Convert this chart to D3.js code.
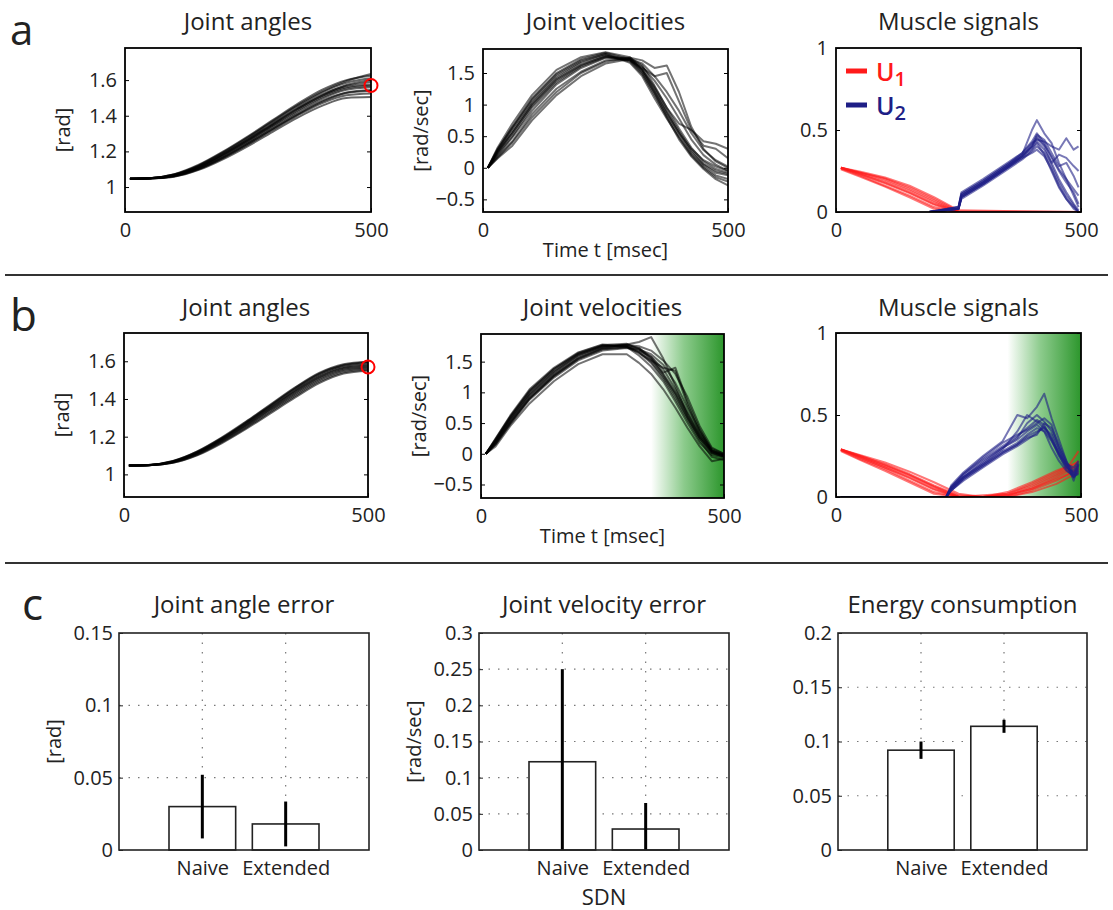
<!DOCTYPE html>
<html>
<head>
<meta charset="utf-8">
<script src="https://d3js.org/d3.v7.min.js"></script>
<style>
  body { margin: 0; background: #fff; }
  svg text { font-family: 'Open Sans', 'Noto Sans', sans-serif; fill: #222; }
</style>
</head>
<body>
<div id="chart"></div>
<script>
// ---- data ----
const timeTicks = [0, 500];

// joint angle traces, sampled at these times [msec]
const angleTimes = [10, 50, 100, 150, 200, 250, 300, 350, 400, 450, 500];
const anglesA = [
  [1.047, 1.050, 1.072, 1.125, 1.200, 1.285, 1.375, 1.465, 1.545, 1.600, 1.625],
  [1.047, 1.050, 1.070, 1.120, 1.193, 1.276, 1.365, 1.452, 1.530, 1.585, 1.610],
  [1.047, 1.049, 1.068, 1.116, 1.187, 1.268, 1.356, 1.442, 1.518, 1.568, 1.590],
  [1.047, 1.049, 1.066, 1.112, 1.182, 1.262, 1.349, 1.435, 1.510, 1.560, 1.575],
  [1.047, 1.049, 1.065, 1.110, 1.178, 1.257, 1.343, 1.428, 1.503, 1.553, 1.568],
  [1.047, 1.049, 1.064, 1.107, 1.174, 1.252, 1.337, 1.420, 1.495, 1.545, 1.560],
  [1.047, 1.048, 1.062, 1.103, 1.168, 1.245, 1.328, 1.410, 1.483, 1.530, 1.545],
  [1.047, 1.048, 1.060, 1.100, 1.163, 1.238, 1.320, 1.400, 1.470, 1.515, 1.525],
  [1.047, 1.048, 1.058, 1.096, 1.157, 1.230, 1.310, 1.388, 1.455, 1.500, 1.505],
  [1.047, 1.050, 1.071, 1.122, 1.196, 1.280, 1.370, 1.458, 1.535, 1.595, 1.635],
  [1.047, 1.049, 1.067, 1.114, 1.185, 1.266, 1.352, 1.438, 1.513, 1.572, 1.600],
  [1.047, 1.048, 1.061, 1.102, 1.166, 1.243, 1.325, 1.405, 1.478, 1.528, 1.540]
];
const anglesB = [
  [1.047, 1.050, 1.070, 1.120, 1.192, 1.277, 1.367, 1.457, 1.535, 1.580, 1.595],
  [1.047, 1.050, 1.069, 1.118, 1.190, 1.274, 1.363, 1.452, 1.530, 1.576, 1.590],
  [1.047, 1.049, 1.068, 1.116, 1.187, 1.270, 1.358, 1.446, 1.524, 1.570, 1.583],
  [1.047, 1.049, 1.067, 1.114, 1.184, 1.266, 1.354, 1.441, 1.518, 1.565, 1.577],
  [1.047, 1.049, 1.066, 1.112, 1.181, 1.262, 1.349, 1.436, 1.513, 1.560, 1.572],
  [1.047, 1.049, 1.065, 1.110, 1.178, 1.258, 1.344, 1.430, 1.507, 1.555, 1.567],
  [1.047, 1.048, 1.064, 1.107, 1.174, 1.253, 1.338, 1.423, 1.500, 1.549, 1.562],
  [1.047, 1.048, 1.062, 1.104, 1.170, 1.247, 1.331, 1.415, 1.492, 1.542, 1.555],
  [1.047, 1.048, 1.061, 1.101, 1.165, 1.241, 1.324, 1.407, 1.484, 1.535, 1.550],
  [1.047, 1.050, 1.071, 1.122, 1.195, 1.280, 1.370, 1.460, 1.538, 1.584, 1.598]
];
const angleTarget = 1.57;

// joint velocity traces
const velTimes = [10, 30, 60, 100, 150, 200, 250, 300, 325, 350, 375, 400, 425, 450, 475, 500];
const velA = [
  [0, 0.30, 0.65, 1.10, 1.50, 1.72, 1.82, 1.72, 1.52, 1.20, 0.85, 0.55, 0.25, 0.05, -0.08, -0.12],
  [0, 0.25, 0.55, 1.00, 1.40, 1.63, 1.76, 1.70, 1.55, 1.28, 0.95, 0.62, 0.32, 0.10, -0.02, -0.08],
  [0, 0.18, 0.42, 0.85, 1.25, 1.52, 1.70, 1.72, 1.60, 1.38, 1.10, 0.78, 0.45, 0.20, 0.05, -0.05],
  [0, 0.28, 0.62, 1.05, 1.45, 1.68, 1.80, 1.66, 1.45, 1.10, 0.78, 0.48, 0.20, 0.00, -0.15, -0.22],
  [0, 0.15, 0.35, 0.75, 1.15, 1.45, 1.65, 1.72, 1.65, 1.45, 1.20, 0.90, 0.55, 0.28, 0.12, 0.02],
  [0, 0.32, 0.70, 1.15, 1.55, 1.75, 1.83, 1.75, 1.55, 1.25, 0.90, 0.58, 0.28, 0.06, -0.05, -0.10],
  [0, 0.22, 0.50, 0.95, 1.35, 1.60, 1.75, 1.70, 1.58, 1.45, 1.50, 1.05, 0.60, 0.35, 0.30, 0.15],
  [0, 0.20, 0.48, 0.90, 1.32, 1.58, 1.74, 1.74, 1.62, 1.30, 0.95, 0.70, 0.60, 0.42, 0.38, 0.30],
  [0, 0.26, 0.58, 1.02, 1.42, 1.66, 1.78, 1.68, 1.48, 1.15, 0.82, 0.50, 0.22, 0.02, -0.12, -0.18],
  [0, 0.16, 0.40, 0.80, 1.20, 1.50, 1.68, 1.74, 1.70, 1.58, 1.62, 1.20, 0.65, 0.30, 0.10, 0.00],
  [0, 0.24, 0.55, 0.98, 1.38, 1.62, 1.77, 1.72, 1.56, 1.22, 0.88, 0.55, 0.30, 0.12, 0.02, -0.05],
  [0, 0.29, 0.64, 1.08, 1.48, 1.70, 1.80, 1.70, 1.50, 1.18, 0.80, 0.45, 0.18, -0.02, -0.18, -0.28]
];
const velB = [
  [0, 0.22, 0.58, 1.00, 1.35, 1.62, 1.76, 1.76, 1.66, 1.50, 1.25, 0.95, 0.58, 0.25, 0.02, -0.04],
  [0, 0.18, 0.52, 0.92, 1.28, 1.56, 1.72, 1.74, 1.68, 1.58, 1.38, 1.05, 0.68, 0.32, 0.06, -0.02],
  [0, 0.25, 0.62, 1.05, 1.40, 1.65, 1.78, 1.74, 1.60, 1.42, 1.18, 0.85, 0.50, 0.18, -0.02, -0.06],
  [0, 0.15, 0.48, 0.88, 1.24, 1.52, 1.68, 1.72, 1.70, 1.62, 1.45, 1.15, 0.75, 0.38, 0.08, 0.00],
  [0, 0.20, 0.55, 0.96, 1.32, 1.60, 1.75, 1.78, 1.82, 1.90, 1.55, 1.10, 0.62, 0.28, 0.05, -0.03],
  [0, 0.12, 0.45, 0.82, 1.18, 1.46, 1.62, 1.62, 1.48, 1.30, 1.05, 0.75, 0.42, 0.12, -0.12, -0.08],
  [0, 0.23, 0.60, 1.02, 1.38, 1.63, 1.76, 1.75, 1.64, 1.52, 1.40, 1.35, 0.80, 0.35, 0.05, -0.02],
  [0, 0.19, 0.54, 0.95, 1.30, 1.58, 1.73, 1.78, 1.72, 1.55, 1.30, 1.00, 0.65, 0.30, 0.02, -0.05],
  [0, 0.17, 0.50, 0.90, 1.26, 1.54, 1.70, 1.73, 1.65, 1.48, 1.22, 0.90, 0.55, 0.22, -0.05, -0.10],
  [0, 0.21, 0.57, 0.98, 1.34, 1.61, 1.74, 1.77, 1.75, 1.68, 1.52, 1.30, 0.92, 0.45, 0.10, 0.00],
  [0, 0.16, 0.50, 0.90, 1.27, 1.55, 1.71, 1.75, 1.72, 1.58, 1.32, 1.40, 0.85, 0.40, 0.04, -0.03],
  [0, 0.24, 0.60, 1.03, 1.38, 1.64, 1.77, 1.79, 1.70, 1.54, 1.28, 0.98, 0.60, 0.26, 0.01, -0.04]
];

// muscle signals, naive SDN (a)
const u1TimesA = [10, 50, 100, 150, 200, 250, 500];
const u1A = [
  [0.270, 0.240, 0.200, 0.140, 0.070, 0.000, 0],
  [0.270, 0.230, 0.180, 0.120, 0.050, 0.000, 0],
  [0.265, 0.220, 0.160, 0.100, 0.030, 0.000, 0],
  [0.270, 0.245, 0.210, 0.160, 0.090, 0.010, 0],
  [0.260, 0.215, 0.155, 0.090, 0.020, 0.000, 0],
  [0.270, 0.235, 0.190, 0.130, 0.060, 0.000, 0],
  [0.268, 0.228, 0.175, 0.115, 0.045, 0.000, 0],
  [0.270, 0.240, 0.205, 0.150, 0.080, 0.005, 0]
];
const u2TimesA = [190, 250, 256, 300, 350, 380, 400, 410, 425, 440, 455, 470, 485, 495];
const u2A = [
  [0, 0.02, 0.09, 0.17, 0.27, 0.33, 0.38, 0.42, 0.35, 0.25, 0.15, 0.08, 0.03, 0.00],
  [0, 0.02, 0.10, 0.18, 0.28, 0.34, 0.40, 0.45, 0.40, 0.30, 0.20, 0.12, 0.05, 0.01],
  [0, 0.03, 0.11, 0.19, 0.29, 0.36, 0.43, 0.48, 0.42, 0.33, 0.25, 0.18, 0.12, 0.05],
  [0, 0.02, 0.08, 0.16, 0.26, 0.32, 0.37, 0.40, 0.36, 0.28, 0.18, 0.10, 0.04, 0.00],
  [0, 0.02, 0.10, 0.18, 0.28, 0.35, 0.50, 0.56, 0.48, 0.42, 0.30, 0.20, 0.10, 0.03],
  [0, 0.03, 0.12, 0.20, 0.30, 0.36, 0.42, 0.44, 0.43, 0.40, 0.38, 0.45, 0.38, 0.40],
  [0, 0.02, 0.09, 0.17, 0.27, 0.34, 0.41, 0.47, 0.44, 0.36, 0.28, 0.30, 0.22, 0.15],
  [0, 0.02, 0.10, 0.18, 0.28, 0.34, 0.39, 0.43, 0.38, 0.30, 0.35, 0.33, 0.28, 0.25],
  [0, 0.02, 0.09, 0.17, 0.27, 0.33, 0.36, 0.38, 0.34, 0.26, 0.16, 0.08, 0.02, 0.00],
  [0, 0.03, 0.11, 0.19, 0.29, 0.35, 0.40, 0.46, 0.41, 0.34, 0.26, 0.20, 0.14, 0.10]
];

// muscle signals, extended SDN (b)
const u1TimesB = [10, 50, 100, 150, 200, 250, 300, 350, 400, 450, 475, 495];
const u1B = [
  [0.290, 0.250, 0.200, 0.140, 0.070, 0.010, 0, 0.01, 0.05, 0.12, 0.16, 0.20],
  [0.290, 0.240, 0.180, 0.120, 0.050, 0.000, 0, 0.02, 0.07, 0.14, 0.18, 0.22],
  [0.285, 0.230, 0.170, 0.100, 0.030, 0.000, 0, 0.00, 0.04, 0.10, 0.14, 0.17],
  [0.290, 0.255, 0.210, 0.155, 0.090, 0.020, 0, 0.01, 0.06, 0.13, 0.17, 0.19],
  [0.280, 0.225, 0.160, 0.090, 0.020, 0.000, 0, 0.03, 0.09, 0.16, 0.19, 0.28],
  [0.290, 0.245, 0.190, 0.130, 0.060, 0.000, 0, 0.00, 0.03, 0.08, 0.12, 0.15],
  [0.288, 0.238, 0.180, 0.115, 0.045, 0.000, 0.01, 0.02, 0.08, 0.15, 0.19, 0.21],
  [0.290, 0.250, 0.195, 0.135, 0.065, 0.005, 0, 0.01, 0.05, 0.11, 0.14, 0.18]
];
const u2TimesB = [10, 225, 235, 260, 300, 340, 370, 390, 410, 425, 440, 455, 470, 485, 495];
const u2B = [
  [0, 0, 0.05, 0.12, 0.20, 0.28, 0.33, 0.38, 0.42, 0.40, 0.30, 0.22, 0.16, 0.13, 0.17],
  [0, 0, 0.06, 0.14, 0.23, 0.31, 0.37, 0.42, 0.47, 0.44, 0.35, 0.25, 0.18, 0.15, 0.20],
  [0, 0, 0.04, 0.10, 0.18, 0.26, 0.31, 0.35, 0.39, 0.43, 0.36, 0.26, 0.17, 0.12, 0.15],
  [0, 0, 0.07, 0.15, 0.25, 0.34, 0.50, 0.48, 0.55, 0.63, 0.48, 0.35, 0.22, 0.14, 0.18],
  [0, 0, 0.05, 0.12, 0.21, 0.30, 0.36, 0.45, 0.50, 0.46, 0.40, 0.30, 0.20, 0.12, 0.16],
  [0, 0, 0.04, 0.11, 0.19, 0.27, 0.32, 0.36, 0.38, 0.45, 0.42, 0.32, 0.22, 0.10, 0.20],
  [0, 0, 0.06, 0.13, 0.22, 0.30, 0.35, 0.40, 0.44, 0.40, 0.34, 0.26, 0.20, 0.18, 0.22],
  [0, 0, 0.05, 0.12, 0.20, 0.29, 0.40, 0.50, 0.46, 0.42, 0.38, 0.28, 0.19, 0.14, 0.19],
  [0, 0, 0.06, 0.14, 0.24, 0.33, 0.38, 0.41, 0.45, 0.48, 0.44, 0.30, 0.21, 0.16, 0.21],
  [0, 0, 0.04, 0.11, 0.19, 0.27, 0.32, 0.37, 0.40, 0.42, 0.35, 0.27, 0.19, 0.13, 0.14]
];
const shadeStart = 350; // msec, start of the green region in (b)

// bar charts (c)
const sdnTypes = ["Naive", "Extended"];
const angleErr = [0.030, 0.018];
const angleErrSd = [0.022, 0.0155];
const velErr = [0.122, 0.029];
const velErrSd = [0.128, 0.036];
const energy = [0.092, 0.114];
const energySd = [0.008, 0.006];

// ---- drawing ----
const colors = {
  trace: "#000",
  u1: "#ff1a1a",
  u2: "#1e1e86",
  target: "#ff0000",
  green: "#2c962c",
  grid: "#777"
};

const svg = d3.select("#chart").append("svg")
  .attr("width", 1113)
  .attr("height", 910);

const defs = svg.append("defs");
const grad = defs.append("linearGradient").attr("id", "greenFade")
  .attr("x1", 0).attr("x2", 1).attr("y1", 0).attr("y2", 0);
grad.append("stop").attr("offset", 0).attr("stop-color", "#ffffff");
grad.append("stop").attr("offset", 0.45).attr("stop-color", "#8ccb8c");
grad.append("stop").attr("offset", 1).attr("stop-color", colors.green);

let clipId = 0;

// one panel with time traces
function tracePanel(box, opt) {
  const x = d3.scaleLinear().domain([0, 500]).range([box.x0, box.x1]);
  const y = d3.scaleLinear().domain(opt.yDomain).range([box.y1, box.y0]);
  const g = svg.append("g");

  const cid = "clip" + (clipId++);
  defs.append("clipPath").attr("id", cid).append("rect")
    .attr("x", box.x0).attr("y", box.y0)
    .attr("width", box.x1 - box.x0).attr("height", box.y1 - box.y0);

  if (opt.shade) {
    g.append("rect")
      .attr("x", x(shadeStart)).attr("y", box.y0)
      .attr("width", x(500) - x(shadeStart)).attr("height", box.y1 - box.y0)
      .attr("fill", "url(#greenFade)");
  }

  const lines = g.append("g").attr("clip-path", `url(#${cid})`);
  opt.groups.forEach(grp => {
    const line = d3.line()
      .x((d, i) => x(grp.times[i]))
      .y(d => y(d))
      .curve(grp.curve || d3.curveLinear);
    lines.selectAll(null)
      .data(grp.traces)
      .enter().append("path")
      .attr("d", line)
      .attr("fill", "none")
      .attr("stroke", grp.color)
      .attr("stroke-opacity", grp.opacity)
      .attr("stroke-width", 2)
      .attr("stroke-linejoin", "round");
  });

  // box
  g.append("rect")
    .attr("x", box.x0).attr("y", box.y0)
    .attr("width", box.x1 - box.x0).attr("height", box.y1 - box.y0)
    .attr("fill", "none").attr("stroke", "#000").attr("stroke-width", 1.8);

  // axes (ticks inside like matlab)
  const ya = g.append("g").attr("transform", `translate(${box.x0},0)`)
    .call(d3.axisLeft(y).tickValues(opt.yTicks).tickSize(-4).tickPadding(8)
      .tickFormat(d3.format("~g")));
  const yr = g.append("g").attr("transform", `translate(${box.x1},0)`)
    .call(d3.axisRight(y).tickValues(opt.yTicks).tickSize(-4).tickFormat(""));
  const xa = g.append("g").attr("transform", `translate(0,${box.y1})`)
    .call(d3.axisBottom(x).tickValues(timeTicks).tickSize(-4).tickPadding(11));
  [ya, yr, xa].forEach(a => {
    a.select(".domain").remove();
    a.selectAll("line").attr("stroke", "#000");
    a.selectAll("text").style("font-size", "20px").attr("fill", "#222");
  });

  svg.append("text")
    .attr("x", (box.x0 + box.x1) / 2).attr("y", opt.titleY)
    .attr("text-anchor", "middle").style("font-size", "24px")
    .text(opt.title);

  if (opt.ylabel) {
    svg.append("text")
      .attr("transform", `translate(${box.x0 - 55},${(box.y0 + box.y1) / 2}) rotate(-90)`)
      .attr("text-anchor", "middle").style("font-size", "20px")
      .text(opt.ylabel);
  }
  if (opt.xlabel) {
    svg.append("text")
      .attr("x", (box.x0 + box.x1) / 2).attr("y", box.y1 + 45)
      .attr("text-anchor", "middle").style("font-size", "20px")
      .text(opt.xlabel);
  }
  return { x, y, g };
}

// one bar chart panel
function barPanel(box, opt) {
  const x = d3.scaleLinear().domain([0, 3]).range([box.x0, box.x1]);
  const y = d3.scaleLinear().domain(opt.yDomain).range([box.y1, box.y0]);
  const g = svg.append("g");

  // dotted grid
  g.selectAll(null).data(opt.yTicks.filter(v => v > 0 && v < opt.yDomain[1]))
    .enter().append("line")
    .attr("x1", box.x0).attr("x2", box.x1)
    .attr("y1", d => y(d)).attr("y2", d => y(d))
    .attr("stroke", colors.grid).attr("stroke-width", 1.2)
    .attr("stroke-dasharray", "1.5,8");
  g.selectAll(null).data([1, 2])
    .enter().append("line")
    .attr("x1", d => x(d)).attr("x2", d => x(d))
    .attr("y1", box.y0).attr("y2", box.y1)
    .attr("stroke", colors.grid).attr("stroke-width", 1.2)
    .attr("stroke-dasharray", "1.5,8");

  // bars
  g.selectAll(null).data(opt.values)
    .enter().append("rect")
    .attr("x", (d, i) => x(i + 1 - 0.4))
    .attr("width", x(0.8) - x(0))
    .attr("y", d => y(d))
    .attr("height", d => box.y1 - y(d))
    .attr("fill", "#fff").attr("stroke", "#222").attr("stroke-width", 1.6);

  // error bars
  g.selectAll(null).data(opt.values)
    .enter().append("line")
    .attr("x1", (d, i) => x(i + 1)).attr("x2", (d, i) => x(i + 1))
    .attr("y1", (d, i) => y(Math.min(opt.yDomain[1], d + opt.sd[i])))
    .attr("y2", (d, i) => y(Math.max(0, d - opt.sd[i])))
    .attr("stroke", "#000").attr("stroke-width", 3);

  g.append("rect")
    .attr("x", box.x0).attr("y", box.y0)
    .attr("width", box.x1 - box.x0).attr("height", box.y1 - box.y0)
    .attr("fill", "none").attr("stroke", "#222").attr("stroke-width", 1.6);

  const ya = g.append("g").attr("transform", `translate(${box.x0},0)`)
    .call(d3.axisLeft(y).tickValues(opt.yTicks).tickSize(-4).tickPadding(6)
      .tickFormat(d3.format("~g")));
  const xa = g.append("g").attr("transform", `translate(0,${box.y1})`)
    .call(d3.axisBottom(x).tickValues([1, 2]).tickSize(0).tickPadding(11)
      .tickFormat((d, i) => sdnTypes[i]));
  [ya, xa].forEach(a => {
    a.select(".domain").remove();
    a.selectAll("line").attr("stroke", "#222");
    a.selectAll("text").style("font-size", "20px").attr("fill", "#222");
  });

  svg.append("text")
    .attr("x", (box.x0 + box.x1) / 2).attr("y", opt.titleY)
    .attr("text-anchor", "middle").style("font-size", "24px")
    .text(opt.title);
  if (opt.ylabel) {
    svg.append("text")
      .attr("transform", `translate(${box.x0 - 58},${(box.y0 + box.y1) / 2}) rotate(-90)`)
      .attr("text-anchor", "middle").style("font-size", "20px")
      .text(opt.ylabel);
  }
  if (opt.xlabel) {
    svg.append("text")
      .attr("x", (box.x0 + box.x1) / 2).attr("y", box.y1 + 55)
      .attr("text-anchor", "middle").style("font-size", "22px")
      .text(opt.xlabel);
  }
}

// ---- row a ----
const pa1 = tracePanel({ x0: 125, x1: 371, y0: 48, y1: 212 }, {
  yDomain: [0.86, 1.78], yTicks: [1, 1.2, 1.4, 1.6], title: "Joint angles", titleY: 30,
  ylabel: "[rad]",
  groups: [{ times: angleTimes, traces: anglesA, color: colors.trace, opacity: 0.6, curve: d3.curveMonotoneX }]
});
tracePanel({ x0: 483, x1: 728, y0: 49, y1: 212 }, {
  yDomain: [-0.7, 1.88], yTicks: [-0.5, 0, 0.5, 1, 1.5], title: "Joint velocities", titleY: 30,
  ylabel: "[rad/sec]", xlabel: "Time t [msec]",
  groups: [{ times: velTimes, traces: velA, color: colors.trace, opacity: 0.55 }]
});
tracePanel({ x0: 836, x1: 1081, y0: 48, y1: 212 }, {
  yDomain: [0, 1], yTicks: [0, 0.5, 1], title: "Muscle signals", titleY: 30,
  groups: [
    { times: u1TimesA, traces: u1A, color: colors.u1, opacity: 0.6 },
    { times: u2TimesA, traces: u2A, color: colors.u2, opacity: 0.6 }
  ]
});

// ---- row b ----
const pb1 = tracePanel({ x0: 124, x1: 368, y0: 333, y1: 497 }, {
  yDomain: [0.88, 1.75], yTicks: [1, 1.2, 1.4, 1.6], title: "Joint angles", titleY: 316,
  ylabel: "[rad]",
  groups: [{ times: angleTimes, traces: anglesB, color: colors.trace, opacity: 0.6, curve: d3.curveMonotoneX }]
});
tracePanel({ x0: 481, x1: 724, y0: 334, y1: 498 }, {
  yDomain: [-0.72, 1.95], yTicks: [-0.5, 0, 0.5, 1, 1.5], title: "Joint velocities", titleY: 316,
  ylabel: "[rad/sec]", xlabel: "Time t [msec]", shade: true,
  groups: [{ times: velTimes, traces: velB, color: colors.trace, opacity: 0.55 }]
});
tracePanel({ x0: 836, x1: 1081, y0: 333, y1: 497 }, {
  yDomain: [0, 1], yTicks: [0, 0.5, 1], title: "Muscle signals", titleY: 316, shade: true,
  groups: [
    { times: u1TimesB, traces: u1B, color: colors.u1, opacity: 0.6 },
    { times: u2TimesB, traces: u2B, color: colors.u2, opacity: 0.6 }
  ]
});

// target markers (red circles)
[pa1, pb1].forEach(p => {
  p.g.append("circle")
    .attr("cx", p.x(500)).attr("cy", p.y(angleTarget)).attr("r", 6.5)
    .attr("fill", "none").attr("stroke", colors.target).attr("stroke-width", 2);
});

// legend in muscle panel (a)
const legend = svg.append("g");
[{ name: "U", sub: "1", color: colors.u1, y: 71 }, { name: "U", sub: "2", color: colors.u2, y: 105 }]
  .forEach(d => {
    legend.append("line")
      .attr("x1", 846).attr("x2", 867).attr("y1", d.y).attr("y2", d.y)
      .attr("stroke", d.color).attr("stroke-width", 5);
    const t = legend.append("text")
      .attr("x", 876).attr("y", d.y + 10)
      .style("font-size", "25px").style("font-weight", 600).style("fill", d.color);
    t.append("tspan").text(d.name);
    t.append("tspan").attr("dy", 5).style("font-size", "20px").text(d.sub);
  });

// ---- row c ----
barPanel({ x0: 119, x1: 369, y0: 633, y1: 850 }, {
  yDomain: [0, 0.15], yTicks: [0, 0.05, 0.1, 0.15], title: "Joint angle error", titleY: 613,
  ylabel: "[rad]", values: angleErr, sd: angleErrSd
});
barPanel({ x0: 479, x1: 729, y0: 633, y1: 850 }, {
  yDomain: [0, 0.3], yTicks: [0, 0.05, 0.1, 0.15, 0.2, 0.25, 0.3], title: "Joint velocity error", titleY: 613,
  ylabel: "[rad/sec]", xlabel: "SDN", values: velErr, sd: velErrSd
});
barPanel({ x0: 838, x1: 1087, y0: 633, y1: 850 }, {
  yDomain: [0, 0.2], yTicks: [0, 0.05, 0.1, 0.15, 0.2], title: "Energy consumption", titleY: 613,
  values: energy, sd: energySd
});

// ---- panel letters and separators ----
[{ t: "a", x: 10, y: 45, s: 42 }, { t: "b", x: 10, y: 331, s: 44 }, { t: "c", x: 22, y: 620, s: 44 }].forEach(d => {
  svg.append("text").attr("x", d.x).attr("y", d.y)
    .style("font-size", d.s + "px").text(d.t);
});
[275, 563].forEach(yy => {
  svg.append("line").attr("x1", 5).attr("x2", 1108).attr("y1", yy).attr("y2", yy)
    .attr("stroke", "#333").attr("stroke-width", 2);
});
</script>
</body>
</html>
